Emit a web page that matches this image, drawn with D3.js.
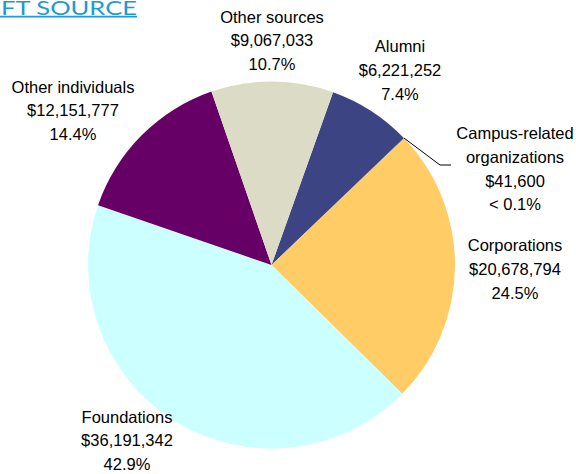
<!DOCTYPE html>
<meta charset="utf-8">
<html lang="en"></html>

<!-- load d3.js -->
<script src="https://d3js.org/d3.v7.min.js"></script>

<style>
    body { margin: 0; background: #fff; }
    svg { display: block; }
</style>

<div id="chart"></div>

<script>

    // data
    const categories = ["Alumni", "Campus-related organizations", "Corporations", "Foundations", "Other individuals", "Other sources"];
    const amounts = [6221252, 41600, 20678794, 36191342, 12151777, 9067033];
    const colours = ["#3d4483", "#3d4483", "#ffcc66", "#ccffff", "#660066", "#dcdcc6"];

    // label text lines per slice (name may span two lines)
    const nameLines = [["Alumni"], ["Campus-related", "organizations"], ["Corporations"], ["Foundations"], ["Other individuals"], ["Other sources"]];

    // label anchors: center x, first baseline
    const labelPos = [
        {x: 400, y: 52},
        {x: 515, y: 139},
        {x: 515, y: 251},
        {x: 127, y: 422.5},
        {x: 73, y: 92.5},
        {x: 272, y: 22.5}
    ];

    const width = 576, height = 474;
    const cx = 271.5, cy = 265, radius = 183.5;
    const lineGap = 23.8;

    const svg = d3.select("#chart")
        .append("svg")
            .attr("width", width)
            .attr("height", height);

    // title (cut off at the left like the original)
    svg.append("text")
        .text("FT SOURCE")
        .attr("x", 1)
        .attr("y", 14.5)
        .attr("fill", "#1d9ad2")
        .attr("textLength", 136)
        .attr("lengthAdjust", "spacingAndGlyphs")
        .style("font-family", "Lato, 'Open Sans', sans-serif")
        .style("font-size", "19px");
    svg.append("line")
        .attr("x1", 0).attr("x2", 137)
        .attr("y1", 16.6).attr("y2", 16.6)
        .attr("stroke", "#1d9ad2")
        .attr("stroke-width", 1.6);

    const total = d3.sum(amounts);
    const data = categories.map(function(c, i) {
        return {name: c, value: amounts[i], colour: colours[i], lines: nameLines[i], pos: labelPos[i]};
    });

    const pie = d3.pie()
        .sort(null)
        .value(function(d) { return d.value; })
        .startAngle(19.6 * Math.PI / 180)
        .endAngle((19.6 + 360) * Math.PI / 180);

    const arc = d3.arc().innerRadius(0).outerRadius(radius);
    const edge = d3.arc().innerRadius(radius).outerRadius(radius);

    const g = svg.append("g")
        .attr("transform", "translate(" + cx + "," + cy + ")");

    const arcs = pie(data);

    g.selectAll("path")
        .data(arcs)
        .enter()
        .append("path")
            .attr("d", arc)
            .attr("fill", function(d) { return d.data.colour; });

    // leader line for the tiny slice
    const tiny = arcs[1];
    const p0 = edge.centroid(tiny);
    svg.append("polyline")
        .attr("points", [[cx + p0[0], cy + p0[1]], [440, 165], [451, 165]].map(function(p) { return p.join(","); }).join(" "))
        .attr("fill", "none")
        .attr("stroke", "#000")
        .attr("stroke-width", 1);

    const fmt = d3.format("$,");
    function pctText(v) {
        const p = v / total * 100;
        return p < 0.1 ? "< 0.1%" : p.toFixed(1) + "%";
    }

    // labels
    const labels = svg.selectAll("text.lbl")
        .data(data)
        .enter()
        .append("text")
            .attr("class", "lbl")
            .attr("text-anchor", "middle")
            .attr("fill", "#000")
            .style("font-family", "Arial, 'Liberation Sans', sans-serif")
            .style("font-size", "16.5px");

    labels.each(function(d) {
        const t = d3.select(this);
        const lines = d.lines.concat([fmt(d.value), pctText(d.value)]);
        lines.forEach(function(s, i) {
            t.append("tspan")
                .attr("x", d.pos.x)
                .attr("y", d.pos.y + i * lineGap)
                .text(s);
        });
    });
</script>
